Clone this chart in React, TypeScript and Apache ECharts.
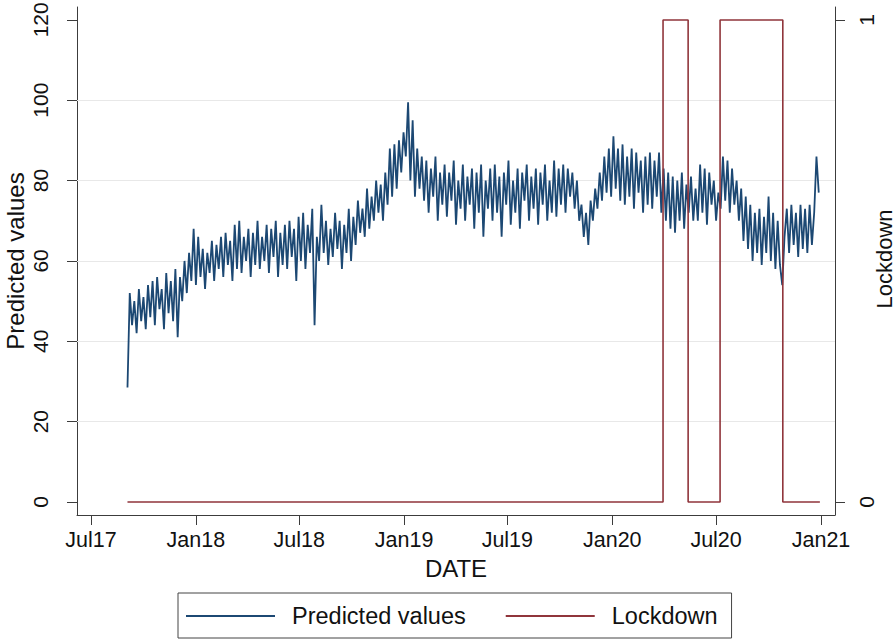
import React, { useEffect, useRef } from "react";
import * as echarts from "echarts";

// ---- data ----
const seriesStart = "2017-09-03";
const stepDays = 4;
const predictedValues = [
  28.5, 52, 44, 50, 42, 53, 45, 51, 43, 54,
  46, 55, 44, 56, 48, 53, 43, 57, 47, 55,
  45, 58, 41, 56, 50, 60, 52, 62, 55, 68,
  54, 66, 56, 63, 53, 62, 57, 65, 55, 64,
  58, 66, 56, 67, 59, 65, 55, 69, 58, 70,
  57, 66, 60, 68, 56, 67, 59, 70, 58, 66,
  60, 69, 57, 68, 61, 70, 56, 67, 59, 69,
  58, 70, 61, 68, 55, 71, 60, 72, 58, 69,
  62, 73, 44, 66, 60, 74, 62, 70, 59, 68,
  61, 72, 63, 70, 58, 69, 62, 73, 60, 71,
  64, 75, 67, 73, 66, 78, 68, 76, 70, 80,
  72, 79, 70, 82, 74, 88, 76, 89, 78, 90,
  82, 92, 86, 99.5, 80, 95, 76, 88, 78, 86,
  75, 85, 72, 83, 76, 86, 70, 82, 74, 84,
  71, 82, 75, 85, 69, 80, 73, 84, 70, 81,
  74, 83, 68, 82, 72, 84, 66, 80, 73, 83,
  70, 84, 72, 81, 66, 82, 74, 85, 69, 80,
  72, 83, 68, 82, 75, 84, 70, 81, 73, 83,
  69, 82, 74, 84, 70, 80, 72, 85, 71, 83,
  74, 84, 72, 83, 76, 82, 73, 80, 70, 74,
  66, 72, 64, 75, 70, 78, 73, 82, 75, 86,
  77, 88, 76, 91, 78, 88, 75, 89, 74, 86,
  76, 88, 73, 87, 77, 85, 72, 86, 74, 87,
  73, 85, 76, 87, 72, 83, 70, 82, 68, 81,
  67, 80, 70, 82, 68, 79, 72, 81, 70, 78,
  70, 84, 72, 83, 69, 82, 74, 80, 70, 77,
  73, 86, 75, 85, 72, 83, 74, 80, 70, 78,
  65, 76, 63, 74, 60, 72, 62, 73, 59, 71,
  62, 76, 60, 72, 58, 70, 59, 54, 66, 73,
  62, 74, 64, 72, 61, 74, 63, 73, 62, 74,
  64, 72, 86, 77,
];
const lockdownDates = ["2017-09-03", "2020-03-30", "2020-05-13", "2020-07-08", "2020-10-26", "2020-12-30"];
const lockdownValues = [0, 1, 0, 1, 0, 0];
const xTickDates = ["2017-07-01", "2018-01-01", "2018-07-01", "2019-01-01", "2019-07-01", "2020-01-01", "2020-07-01", "2021-01-01"];
const xTickLabels = ["Jul17", "Jan18", "Jul18", "Jan19", "Jul19", "Jan20", "Jul20", "Jan21"];
const yTicks = [0, 20, 40, 60, 80, 100, 120];
const yGridValues = [20, 40, 60, 80, 100];
const lockdownTicks = [0, 1];
const leftTitle = "Predicted values";
const rightTitle = "Lockdown";

const DAY = 86400000;
const toTs = (s: string) => {
  const [y, m, d] = s.split("-").map(Number);
  return Date.UTC(y, m - 1, d);
};

const FONT = "'Liberation Sans', Arial, Helvetica, sans-serif";
const AXIS_COLOR = "#3c3c3c";
const TEXT_COLOR = "#111111";

export default function App() {
  const ref = useRef<HTMLDivElement>(null);

  useEffect(() => {
    if (!ref.current) return;
    const chart = echarts.init(ref.current, undefined, { renderer: "svg" });
    const t0 = toTs(seriesStart);
    const xTicks = xTickDates.map(toTs);
    const anchor = xTicks[0];
    const labelFor = (v: number) => {
      for (let i = 0; i < xTicks.length; i++) {
        if (Math.abs(xTicks[i] - v) < DAY / 2) return xTickLabels[i];
      }
      return "";
    };

    chart.setOption({
      animation: false,
      textStyle: { fontFamily: FONT },
      grid: { left: 77, right: 61, top: 7, bottom: 126, containLabel: false, outerBoundsMode: "none" },
      graphic: [
        {
          type: "text",
          x: 15,
          y: 261,
          rotation: Math.PI / 2,
          silent: true,
          style: {
            text: leftTitle,
            fontSize: 24,
            fontFamily: FONT,
            fill: TEXT_COLOR,
            align: "center",
            verticalAlign: "middle",
          },
        },
        {
          type: "text",
          x: 884,
          y: 259,
          rotation: Math.PI / 2,
          silent: true,
          style: {
            text: rightTitle,
            fontSize: 22,
            fontFamily: FONT,
            fill: TEXT_COLOR,
            align: "center",
            verticalAlign: "middle",
          },
        },
      ],
      legend: {
        data: ["Predicted values", "Lockdown"],
        left: 178,
        top: 593,
        icon: "rect",
        itemWidth: 89,
        itemHeight: 2,
        itemGap: 40,
        selectedMode: false,
        borderColor: "#444",
        borderWidth: 1,
        borderRadius: 0,
        padding: [11, 14, 10, 8],
        textStyle: { fontSize: 23.5, color: TEXT_COLOR, fontFamily: FONT, padding: [0, 0, 0, 12] },
      },
      xAxis: {
        type: "value",
        min: anchor - 24.5 * DAY,
        max: anchor + 1304.5 * DAY,
        axisLine: { show: true, onZero: false, lineStyle: { color: AXIS_COLOR, width: 1 } },
        axisTick: { show: true, length: 10, customValues: xTicks, lineStyle: { color: AXIS_COLOR } },
        axisLabel: {
          customValues: xTicks,
          formatter: (v: number) => labelFor(v),
          fontSize: 21.5,
          color: TEXT_COLOR,
          margin: 14,
          fontFamily: FONT,
        },
        splitLine: { show: false },
        name: "DATE",
        nameLocation: "middle",
        nameGap: 41,
        nameTextStyle: { fontSize: 24, color: TEXT_COLOR, fontFamily: FONT },
      },
      yAxis: [
        {
          type: "value",
          position: "left",
          min: -3.236,
          max: 123.2,
          axisLine: { show: true, onZero: false, lineStyle: { color: AXIS_COLOR, width: 1 } },
          axisTick: { show: true, length: 10, customValues: yTicks, lineStyle: { color: AXIS_COLOR } },
          axisLabel: { customValues: yTicks, rotate: 90, fontSize: 21, color: TEXT_COLOR, margin: 26, fontFamily: FONT },
          splitLine: { show: false },
        },
        {
          type: "value",
          position: "right",
          min: -0.02697,
          max: 1.02697,
          axisLine: { show: true, onZero: false, lineStyle: { color: AXIS_COLOR, width: 1 } },
          axisTick: { show: true, length: 10, customValues: lockdownTicks, lineStyle: { color: AXIS_COLOR } },
          axisLabel: { customValues: lockdownTicks, rotate: 90, fontSize: 21, color: TEXT_COLOR, margin: 21, fontFamily: FONT },
          splitLine: { show: false },
        },
      ],
      series: [
        {
          name: "grid",
          type: "line",
          data: [],
          yAxisIndex: 0,
          z: 1,
          markLine: {
            silent: true,
            symbol: "none",
            z: 1,
            label: { show: false },
            lineStyle: { color: "#e8e8e8", type: "solid", width: 1 },
            data: yGridValues.map((v) => ({ yAxis: v })),
          },
        },
        {
          name: "Predicted values",
          type: "line",
          yAxisIndex: 0,
          z: 3,
          showSymbol: false,
          symbol: "none",
          itemStyle: { color: "#1c4873" },
          lineStyle: { color: "#1c4873", width: 1.8 },
          data: predictedValues.map((v, i) => [t0 + i * stepDays * DAY, v]),
        },
        {
          name: "Lockdown",
          type: "line",
          yAxisIndex: 1,
          z: 4,
          step: "end",
          showSymbol: false,
          symbol: "none",
          itemStyle: { color: "#90353b" },
          lineStyle: { color: "#90353b", width: 1.6 },
          data: lockdownDates.map((d, i) => [toTs(d), lockdownValues[i]]),
        },
      ],
    });
    return () => chart.dispose();
  }, []);

  return (
    <div
      ref={ref}
      style={{ position: "fixed", left: 0, top: 0, width: 896, height: 641, background: "#fff" }}
    />
  );
}
